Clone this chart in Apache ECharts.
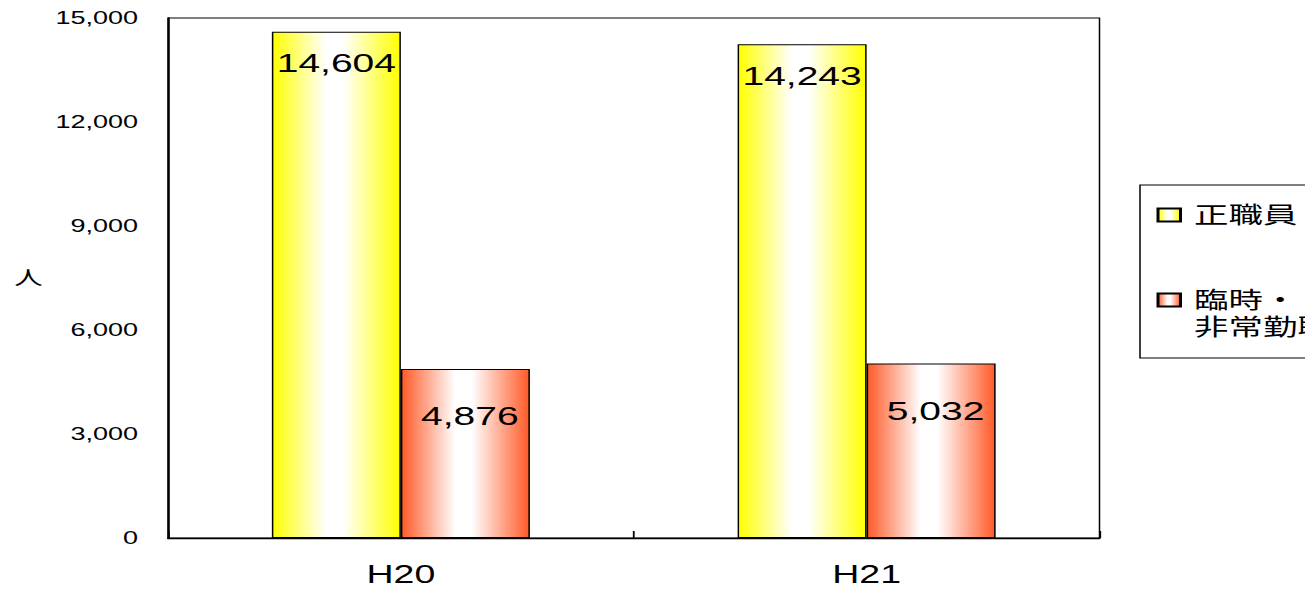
<!DOCTYPE html>
<html lang="ja">
<head>
<meta charset="utf-8">
<title>職員数の推移</title>
<script src="https://cdn.jsdelivr.net/npm/echarts@6/dist/echarts.min.js"></script>
<style>
  html, body { margin: 0; padding: 0; background: #fff; overflow: hidden; }
  /* the chart is laid out narrow and widened horizontally, giving the wide lettering */
  #chart { width: 870px; height: 589px; transform: scaleX(1.5); transform-origin: 0 0; }
</style>
</head>
<body>
<div id="chart"></div>
<script>
// categories (fiscal years) and staff counts
const categories = ['H20', 'H21'];
const seriesNames = ['正職員', '臨時・\n非常勤職員'];
const regularStaff = [14604, 14243];
const temporaryStaff = [4876, 5032];
const yTicks = { min: 0, max: 15000, interval: 3000 };

const FONT = '"Liberation Sans", Arial, "Noto Sans CJK JP", sans-serif';

function barGradient(edge) {
  return new echarts.graphic.LinearGradient(0, 0, 1, 0, [
    { offset: 0, color: edge },
    { offset: 0.42, color: '#ffffff' },
    { offset: 0.55, color: '#ffffff' },
    { offset: 1, color: edge }
  ]);
}

const fmt = v => v.toLocaleString('en-US');

const chart = echarts.init(document.getElementById('chart'), null, { renderer: 'svg' });

chart.setOption({
  backgroundColor: '#ffffff',
  animation: false,
  textStyle: { fontFamily: FONT, color: '#000' },
  grid: {
    left: 112, right: 137, top: 18, bottom: 51,
    show: true, borderColor: '#000', borderWidth: 1, backgroundColor: 'transparent'
  },
  legend: {
    orient: 'vertical',
    left: 760, top: 185,
    padding: [16.5, 40, 17.5, 11],
    itemGap: 31,
    itemWidth: 15, itemHeight: 13,
    icon: 'rect',
    borderColor: '#000', borderWidth: 1,
    textStyle: { fontFamily: FONT, fontSize: 23, lineHeight: 27, color: '#000', padding: [0, 0, 0, 4] },
    // a wrapped name gets a blank first line so its first text line sits level with the swatch
    formatter: name => (name.indexOf('\n') >= 0 ? '\n' + name : name),
    data: seriesNames
  },
  xAxis: {
    type: 'category',
    data: categories,
    axisLine: { lineStyle: { color: '#000', width: 1.4 } },
    axisTick: { show: true, inside: true, length: 7, lineStyle: { color: '#000', width: 1.2 } },
    axisLabel: { fontSize: 25, color: '#000', margin: 24, fontFamily: FONT }
  },
  yAxis: {
    type: 'value',
    min: yTicks.min, max: yTicks.max, interval: yTicks.interval,
    name: '人',
    nameLocation: 'middle',
    nameRotate: 0,
    nameGap: 93,
    nameTextStyle: { fontSize: 19, color: '#000', align: 'center', fontFamily: FONT, padding: [6, 0, 0, 0] },
    axisLine: { show: true, lineStyle: { color: '#000', width: 1.4 } },
    axisTick: { show: false },
    splitLine: { show: false },
    axisLabel: { fontSize: 18, color: '#000', margin: 20, fontFamily: FONT, formatter: fmt }
  },
  series: [
    {
      name: seriesNames[0],
      type: 'bar',
      data: regularStaff,
      barGap: '0%',
      barCategoryGap: '44.6%',
      itemStyle: { color: barGradient('#ffff00'), borderColor: '#000', borderWidth: 1 },
      label: {
        show: true, position: 'insideTop', distance: 18.5,
        fontSize: 26, color: '#000', fontFamily: FONT,
        formatter: p => fmt(p.value)
      }
    },
    {
      name: seriesNames[1],
      type: 'bar',
      data: temporaryStaff,
      itemStyle: { color: barGradient('#ff5a28'), borderColor: '#000', borderWidth: 1 },
      label: {
        show: true, position: 'insideTop', distance: 34, offset: [3, 0],
        fontSize: 26, color: '#000', fontFamily: FONT,
        formatter: p => fmt(p.value)
      }
    }
  ]
});
</script>
</body>
</html>
